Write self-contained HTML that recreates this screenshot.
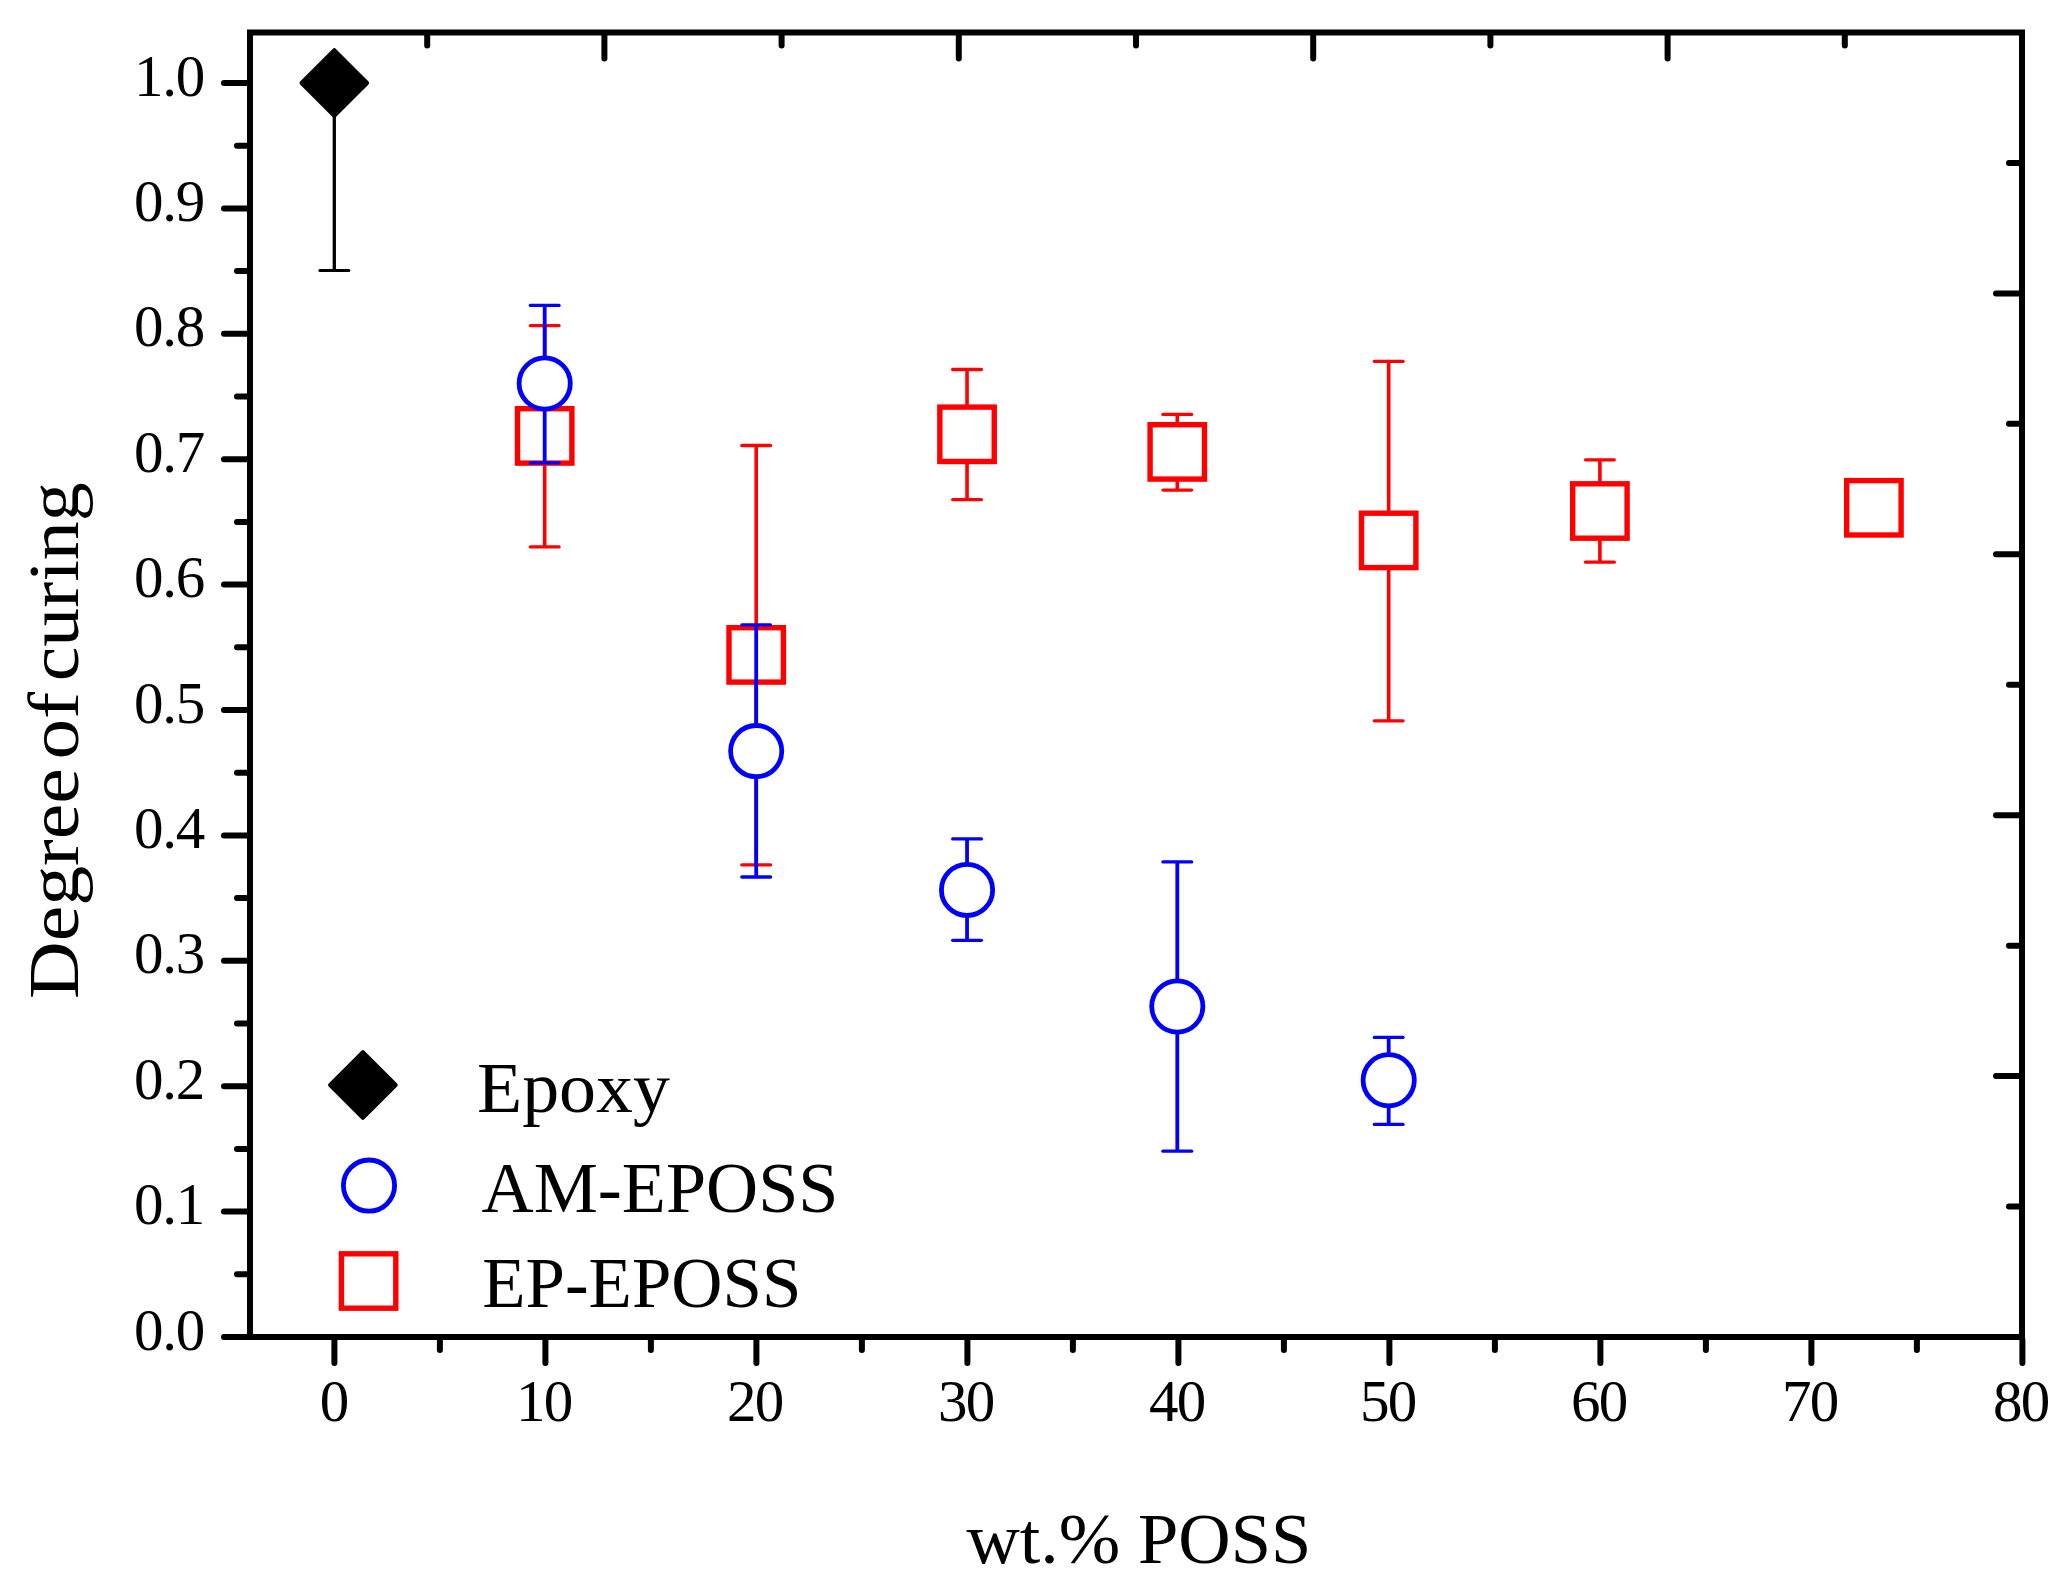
<!DOCTYPE html>
<html lang="en"><head><meta charset="utf-8"><title>Degree of curing vs wt.% POSS</title>
<style>html,body{margin:0;padding:0;background:#fff}svg{display:block}text{font-family:"Liberation Serif","DejaVu Serif",serif;fill:#000}.tk{font-size:59px}.lg{font-size:72.5px}.ti{font-size:71px}</style></head><body>
<svg width="2069" height="1581" viewBox="0 0 2069 1581">
<rect width="2069" height="1581" fill="#fff"/>
<g stroke="#000" stroke-width="6" stroke-linecap="round" fill="none">
<line x1="247.00" y1="1337.00" x2="224.00" y2="1337.00"/>
<line x1="247.00" y1="1274.30" x2="237.00" y2="1274.30"/>
<line x1="247.00" y1="1211.60" x2="224.00" y2="1211.60"/>
<line x1="247.00" y1="1148.90" x2="237.00" y2="1148.90"/>
<line x1="247.00" y1="1086.20" x2="224.00" y2="1086.20"/>
<line x1="247.00" y1="1023.50" x2="237.00" y2="1023.50"/>
<line x1="247.00" y1="960.80" x2="224.00" y2="960.80"/>
<line x1="247.00" y1="898.10" x2="237.00" y2="898.10"/>
<line x1="247.00" y1="835.40" x2="224.00" y2="835.40"/>
<line x1="247.00" y1="772.70" x2="237.00" y2="772.70"/>
<line x1="247.00" y1="710.00" x2="224.00" y2="710.00"/>
<line x1="247.00" y1="647.30" x2="237.00" y2="647.30"/>
<line x1="247.00" y1="584.60" x2="224.00" y2="584.60"/>
<line x1="247.00" y1="521.90" x2="237.00" y2="521.90"/>
<line x1="247.00" y1="459.20" x2="224.00" y2="459.20"/>
<line x1="247.00" y1="396.50" x2="237.00" y2="396.50"/>
<line x1="247.00" y1="333.80" x2="224.00" y2="333.80"/>
<line x1="247.00" y1="271.10" x2="237.00" y2="271.10"/>
<line x1="247.00" y1="208.40" x2="224.00" y2="208.40"/>
<line x1="247.00" y1="145.70" x2="237.00" y2="145.70"/>
<line x1="247.00" y1="83.00" x2="224.00" y2="83.00"/>
<line x1="334.40" y1="1340.00" x2="334.40" y2="1363.00"/>
<line x1="439.90" y1="1340.00" x2="439.90" y2="1350.00"/>
<line x1="545.40" y1="1340.00" x2="545.40" y2="1363.00"/>
<line x1="650.90" y1="1340.00" x2="650.90" y2="1350.00"/>
<line x1="756.40" y1="1340.00" x2="756.40" y2="1363.00"/>
<line x1="861.90" y1="1340.00" x2="861.90" y2="1350.00"/>
<line x1="967.40" y1="1340.00" x2="967.40" y2="1363.00"/>
<line x1="1072.90" y1="1340.00" x2="1072.90" y2="1350.00"/>
<line x1="1178.40" y1="1340.00" x2="1178.40" y2="1363.00"/>
<line x1="1283.90" y1="1340.00" x2="1283.90" y2="1350.00"/>
<line x1="1389.40" y1="1340.00" x2="1389.40" y2="1363.00"/>
<line x1="1494.90" y1="1340.00" x2="1494.90" y2="1350.00"/>
<line x1="1600.40" y1="1340.00" x2="1600.40" y2="1363.00"/>
<line x1="1705.90" y1="1340.00" x2="1705.90" y2="1350.00"/>
<line x1="1811.40" y1="1340.00" x2="1811.40" y2="1363.00"/>
<line x1="1916.90" y1="1340.00" x2="1916.90" y2="1350.00"/>
<line x1="2022.40" y1="1340.00" x2="2022.40" y2="1363.00"/>
<line x1="427.20" y1="35.50" x2="427.20" y2="45.50"/>
<line x1="604.40" y1="35.50" x2="604.40" y2="58.50"/>
<line x1="781.60" y1="35.50" x2="781.60" y2="45.50"/>
<line x1="958.80" y1="35.50" x2="958.80" y2="58.50"/>
<line x1="1136.00" y1="35.50" x2="1136.00" y2="45.50"/>
<line x1="1313.20" y1="35.50" x2="1313.20" y2="58.50"/>
<line x1="1490.40" y1="35.50" x2="1490.40" y2="45.50"/>
<line x1="1667.60" y1="35.50" x2="1667.60" y2="58.50"/>
<line x1="1844.80" y1="35.50" x2="1844.80" y2="45.50"/>
<line x1="2019.00" y1="1206.55" x2="2009.00" y2="1206.55"/>
<line x1="2019.00" y1="1076.10" x2="1996.00" y2="1076.10"/>
<line x1="2019.00" y1="945.65" x2="2009.00" y2="945.65"/>
<line x1="2019.00" y1="815.20" x2="1996.00" y2="815.20"/>
<line x1="2019.00" y1="684.75" x2="2009.00" y2="684.75"/>
<line x1="2019.00" y1="554.30" x2="1996.00" y2="554.30"/>
<line x1="2019.00" y1="423.85" x2="2009.00" y2="423.85"/>
<line x1="2019.00" y1="293.40" x2="1996.00" y2="293.40"/>
<line x1="2019.00" y1="162.95" x2="2009.00" y2="162.95"/>
</g>
<rect x="250" y="32.5" width="1772" height="1304.5" fill="none" stroke="#000" stroke-width="6"/>
<text class="tk" x="134.0" y="1349.60" textLength="71.3" lengthAdjust="spacing">0.0</text>
<text class="tk" x="134.0" y="1224.20" textLength="71.3" lengthAdjust="spacing">0.1</text>
<text class="tk" x="134.0" y="1098.80" textLength="71.3" lengthAdjust="spacing">0.2</text>
<text class="tk" x="134.0" y="973.40" textLength="71.3" lengthAdjust="spacing">0.3</text>
<text class="tk" x="134.0" y="848.00" textLength="71.3" lengthAdjust="spacing">0.4</text>
<text class="tk" x="134.0" y="722.60" textLength="71.3" lengthAdjust="spacing">0.5</text>
<text class="tk" x="134.0" y="597.20" textLength="71.3" lengthAdjust="spacing">0.6</text>
<text class="tk" x="134.0" y="471.80" textLength="71.3" lengthAdjust="spacing">0.7</text>
<text class="tk" x="134.0" y="346.40" textLength="71.3" lengthAdjust="spacing">0.8</text>
<text class="tk" x="134.0" y="221.00" textLength="71.3" lengthAdjust="spacing">0.9</text>
<text class="tk" x="134.0" y="95.60" textLength="71.3" lengthAdjust="spacing">1.0</text>
<text class="tk" x="334.40" y="1420.7" text-anchor="middle">0</text>
<text class="tk" x="515.90" y="1420.7" textLength="57.4" lengthAdjust="spacing">10</text>
<text class="tk" x="726.90" y="1420.7" textLength="57.4" lengthAdjust="spacing">20</text>
<text class="tk" x="937.90" y="1420.7" textLength="57.4" lengthAdjust="spacing">30</text>
<text class="tk" x="1148.90" y="1420.7" textLength="57.4" lengthAdjust="spacing">40</text>
<text class="tk" x="1359.90" y="1420.7" textLength="57.4" lengthAdjust="spacing">50</text>
<text class="tk" x="1570.90" y="1420.7" textLength="57.4" lengthAdjust="spacing">60</text>
<text class="tk" x="1781.90" y="1420.7" textLength="57.4" lengthAdjust="spacing">70</text>
<text class="tk" x="1992.90" y="1420.7" textLength="57.4" lengthAdjust="spacing">80</text>
<text class="ti" y="1562.6" xml:space="preserve"><tspan x="966.4" textLength="172.3" lengthAdjust="spacingAndGlyphs">wt.% </tspan><tspan x="1138.0" textLength="173.3" lengthAdjust="spacingAndGlyphs">POSS</tspan></text>
<text class="ti" transform="translate(77.6,999) rotate(-90)" xml:space="preserve"><tspan x="0.0" textLength="250.6" lengthAdjust="spacingAndGlyphs">Degree </tspan><tspan x="239.4" textLength="88.2" lengthAdjust="spacingAndGlyphs">of </tspan><tspan x="317.7" textLength="199" lengthAdjust="spacingAndGlyphs">curing</tspan></text>
<g stroke="#000" fill="none" stroke-linecap="round"><line x1="334.30" y1="83.00" x2="334.30" y2="270.50" stroke-width="3.3" stroke-linecap="butt"/><line x1="319.80" y1="270.50" x2="348.80" y2="270.50" stroke-width="3"/></g>
<path d="M334.30 50.20 L367.10 83.00 L334.30 115.80 L301.50 83.00 Z" fill="#000" stroke="#000" stroke-width="4" stroke-linejoin="round"/>
<g stroke="#ff0000" fill="none" stroke-linecap="round"><line x1="544.70" y1="325.70" x2="544.70" y2="546.90" stroke-width="3.6" stroke-linecap="butt"/><line x1="530.35" y1="325.70" x2="559.05" y2="325.70" stroke-width="3.3"/><line x1="530.35" y1="546.90" x2="559.05" y2="546.90" stroke-width="3.3"/></g>
<g stroke="#ff0000" fill="none" stroke-linecap="round"><line x1="756.20" y1="445.50" x2="756.20" y2="864.90" stroke-width="3.6" stroke-linecap="butt"/><line x1="741.85" y1="445.50" x2="770.55" y2="445.50" stroke-width="3.3"/><line x1="741.85" y1="864.90" x2="770.55" y2="864.90" stroke-width="3.3"/></g>
<g stroke="#ff0000" fill="none" stroke-linecap="round"><line x1="967.05" y1="369.50" x2="967.05" y2="499.60" stroke-width="3.6" stroke-linecap="butt"/><line x1="952.70" y1="369.50" x2="981.40" y2="369.50" stroke-width="3.3"/><line x1="952.70" y1="499.60" x2="981.40" y2="499.60" stroke-width="3.3"/></g>
<g stroke="#ff0000" fill="none" stroke-linecap="round"><line x1="1177.30" y1="414.40" x2="1177.30" y2="490.10" stroke-width="3.6" stroke-linecap="butt"/><line x1="1162.95" y1="414.40" x2="1191.65" y2="414.40" stroke-width="3.3"/><line x1="1162.95" y1="490.10" x2="1191.65" y2="490.10" stroke-width="3.3"/></g>
<g stroke="#ff0000" fill="none" stroke-linecap="round"><line x1="1388.70" y1="361.30" x2="1388.70" y2="720.80" stroke-width="3.6" stroke-linecap="butt"/><line x1="1374.35" y1="361.30" x2="1403.05" y2="361.30" stroke-width="3.3"/><line x1="1374.35" y1="720.80" x2="1403.05" y2="720.80" stroke-width="3.3"/></g>
<g stroke="#ff0000" fill="none" stroke-linecap="round"><line x1="1599.90" y1="459.80" x2="1599.90" y2="562.20" stroke-width="3.6" stroke-linecap="butt"/><line x1="1585.55" y1="459.80" x2="1614.25" y2="459.80" stroke-width="3.3"/><line x1="1585.55" y1="562.20" x2="1614.25" y2="562.20" stroke-width="3.3"/></g>
<rect x="517.50" y="408.70" width="54.40" height="54.40" fill="#fff" stroke="#ff0000" stroke-width="5.4"/>
<rect x="729.00" y="627.70" width="54.40" height="54.40" fill="#fff" stroke="#ff0000" stroke-width="5.4"/>
<rect x="939.85" y="407.10" width="54.40" height="54.40" fill="#fff" stroke="#ff0000" stroke-width="5.4"/>
<rect x="1150.10" y="424.70" width="54.40" height="54.40" fill="#fff" stroke="#ff0000" stroke-width="5.4"/>
<rect x="1361.50" y="513.20" width="54.40" height="54.40" fill="#fff" stroke="#ff0000" stroke-width="5.4"/>
<rect x="1572.70" y="483.80" width="54.40" height="54.40" fill="#fff" stroke="#ff0000" stroke-width="5.4"/>
<rect x="1846.70" y="480.60" width="54.40" height="54.40" fill="#fff" stroke="#ff0000" stroke-width="5.4"/>
<g stroke="#0000ff" fill="none" stroke-linecap="round"><line x1="544.70" y1="305.40" x2="544.70" y2="462.90" stroke-width="3.8" stroke-linecap="butt"/><line x1="530.35" y1="305.40" x2="559.05" y2="305.40" stroke-width="3.3"/><line x1="530.35" y1="462.90" x2="559.05" y2="462.90" stroke-width="3.3"/></g>
<g stroke="#0000ff" fill="none" stroke-linecap="round"><line x1="756.20" y1="624.90" x2="756.20" y2="877.00" stroke-width="3.8" stroke-linecap="butt"/><line x1="741.85" y1="624.90" x2="770.55" y2="624.90" stroke-width="3.3"/><line x1="741.85" y1="877.00" x2="770.55" y2="877.00" stroke-width="3.3"/></g>
<g stroke="#0000ff" fill="none" stroke-linecap="round"><line x1="967.05" y1="838.90" x2="967.05" y2="940.30" stroke-width="3.8" stroke-linecap="butt"/><line x1="952.70" y1="838.90" x2="981.40" y2="838.90" stroke-width="3.3"/><line x1="952.70" y1="940.30" x2="981.40" y2="940.30" stroke-width="3.3"/></g>
<g stroke="#0000ff" fill="none" stroke-linecap="round"><line x1="1177.30" y1="861.90" x2="1177.30" y2="1151.20" stroke-width="3.8" stroke-linecap="butt"/><line x1="1162.95" y1="861.90" x2="1191.65" y2="861.90" stroke-width="3.3"/><line x1="1162.95" y1="1151.20" x2="1191.65" y2="1151.20" stroke-width="3.3"/></g>
<g stroke="#0000ff" fill="none" stroke-linecap="round"><line x1="1388.70" y1="1037.40" x2="1388.70" y2="1124.40" stroke-width="3.8" stroke-linecap="butt"/><line x1="1374.35" y1="1037.40" x2="1403.05" y2="1037.40" stroke-width="3.3"/><line x1="1374.35" y1="1124.40" x2="1403.05" y2="1124.40" stroke-width="3.3"/></g>
<circle cx="544.70" cy="383.50" r="25.60" fill="#fff" stroke="#0000ff" stroke-width="4.8"/>
<circle cx="756.20" cy="751.10" r="25.60" fill="#fff" stroke="#0000ff" stroke-width="4.8"/>
<circle cx="967.05" cy="889.90" r="25.60" fill="#fff" stroke="#0000ff" stroke-width="4.8"/>
<circle cx="1177.30" cy="1006.50" r="25.60" fill="#fff" stroke="#0000ff" stroke-width="4.8"/>
<circle cx="1388.70" cy="1080.30" r="25.60" fill="#fff" stroke="#0000ff" stroke-width="4.8"/>
<path d="M362.90 1052.20 L395.70 1085.00 L362.90 1117.80 L330.10 1085.00 Z" fill="#000" stroke="#000" stroke-width="4" stroke-linejoin="round"/>
<circle cx="369.00" cy="1185.60" r="25.60" fill="#fff" stroke="#0000ff" stroke-width="4.8"/>
<rect x="341.40" y="1253.80" width="54.40" height="54.40" fill="#fff" stroke="#ff0000" stroke-width="5.4"/>
<text class="lg" x="477" y="1112" textLength="193" lengthAdjust="spacingAndGlyphs">Epoxy</text>
<text class="lg" x="481.5" y="1212" textLength="357" lengthAdjust="spacingAndGlyphs">AM-EPOSS</text>
<text class="lg" x="482.3" y="1307.3" textLength="319" lengthAdjust="spacingAndGlyphs">EP-EPOSS</text>
</svg></body></html>
